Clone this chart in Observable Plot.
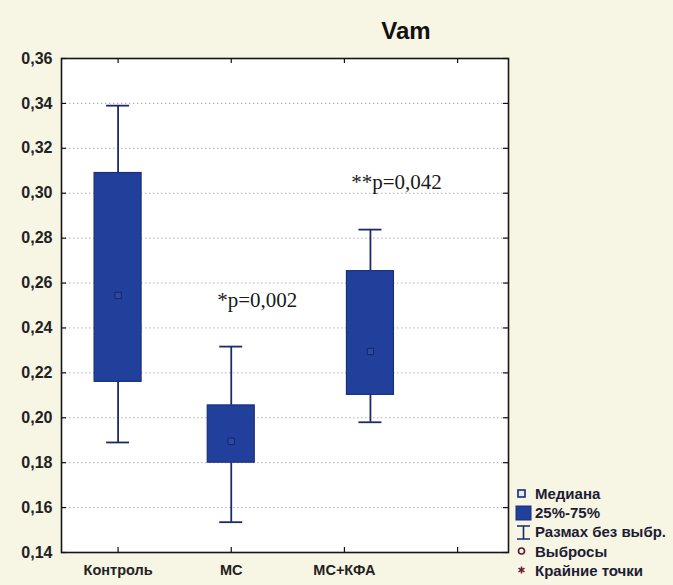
<!DOCTYPE html>
<html>
<head>
<meta charset="utf-8">
<script src="https://cdn.jsdelivr.net/npm/d3@7"></script>
<script src="https://cdn.jsdelivr.net/npm/@observablehq/plot@0.6"></script>
<style>
  html, body { margin: 0; padding: 0; background: #f7f5e3; }
  #wrap { position: relative; width: 673px; height: 585px; overflow: hidden; }
  #title { position: absolute; left: 0; width: 812px; top: 17px; text-align: center;
           font: bold 24px "Liberation Sans", Arial, sans-serif; color: #111; }
  #legend { position: absolute; left: 513px; top: 484px; font: bold 15px "Liberation Sans", Arial, sans-serif; color: #1c1c34; }
  #legend .row { display: flex; align-items: center; height: 19.2px; white-space: nowrap; }
  #legend svg { width: 22px; height: 18px; flex: none; }
</style>
</head>
<body>
<div id="wrap">
  <div id="chart"></div>
  <div id="title">Vam</div>
  <div id="legend"></div>
</div>
<script>
// ---- data ----
const groups = ["Контроль", "МС", "МС+КФА"];
const groupPos = [1, 2, 3.23];           // horizontal position of each box (category units)
const whiskerLow  = [0.189, 0.1535, 0.198];
const q1          = [0.216, 0.180, 0.2102];
const median      = [0.2545, 0.1895, 0.2295];
const q3          = [0.309, 0.2055, 0.2653];
const whiskerHigh = [0.339, 0.2317, 0.2838];
const yTicks = [0.14, 0.16, 0.18, 0.20, 0.22, 0.24, 0.26, 0.28, 0.30, 0.32, 0.34, 0.36];
const xTicks = [1, 2, 3, 4];
const annotations = [
  { group: 1, label: "*p=0,002", y: 0.2525 },
  { group: 2, label: "**p=0,042", y: 0.305 }
];
const legendItems = ["Медиана", "25%-75%", "Размах без выбр.", "Выбросы", "Крайние точки"];

const data = groups.map((g, i) => ({
  group: g, pos: groupPos[i], lo: whiskerLow[i], q1: q1[i], med: median[i], q3: q3[i], hi: whiskerHigh[i]
}));
const ann = annotations.map(a => ({ ...a, pos: groupPos[a.group] }));

// ---- layout ----
const W = 673, H = 585;
const mL = 61, mR = 165, mT = 58, mB = 33;
const innerW = W - mL - mR, innerH = H - mT - mB;
const xDomain = [0.5, 4.45];
const pxPerUnit = innerW / (xDomain[1] - xDomain[0]);
const boxHalf = 23.5 / pxPerUnit;
const capHalf = 11.5 / pxPerUnit;

const boxFill = "#21409b";
const boxStroke = "#1a2f7c";
const lineCol = "#1b2a6c";

const chart = Plot.plot({
  width: W, height: H,
  marginLeft: mL, marginRight: mR, marginTop: mT, marginBottom: mB,
  style: { background: "transparent", overflow: "visible" },
  x: { domain: xDomain, axis: null },
  y: { domain: [0.14, 0.36], axis: null },
  marks: [
    Plot.frame({ fill: "#ffffff", stroke: "none" }),
    Plot.ruleY(yTicks.slice(1, -1), { stroke: "#9a9aa8", strokeWidth: 0.8, strokeDasharray: "1.5,2.5" }),
    // whiskers
    Plot.ruleX(data, { x: "pos", y1: "lo", y2: "q1", stroke: lineCol, strokeWidth: 1.8 }),
    Plot.ruleX(data, { x: "pos", y1: "q3", y2: "hi", stroke: lineCol, strokeWidth: 1.8 }),
    Plot.ruleY(data, { y: "hi", x1: d => d.pos - capHalf, x2: d => d.pos + capHalf, stroke: lineCol, strokeWidth: 1.8 }),
    Plot.ruleY(data, { y: "lo", x1: d => d.pos - capHalf, x2: d => d.pos + capHalf, stroke: lineCol, strokeWidth: 1.8 }),
    // boxes
    Plot.rect(data, { x1: d => d.pos - boxHalf, x2: d => d.pos + boxHalf, y1: "q1", y2: "q3",
                      fill: boxFill, stroke: boxStroke, strokeWidth: 1.2 }),
    // median markers
    Plot.dot(data, { x: "pos", y: "med", symbol: "square", r: 3.6, fill: "#2a4aa6", stroke: "#16256a", strokeWidth: 1 }),
    // annotations
    Plot.text(ann, { x: "pos", y: "y", text: "label", dx: 26, textAnchor: "middle",
                     fontFamily: "Liberation Serif, Times New Roman, serif", fontSize: 21, fill: "#1a1a1a" }),
    // inward ticks
    Plot.tickY(yTicks, { y: d => d, insetRight: innerW - 5, stroke: "#111", strokeWidth: 1.2 }),
    Plot.tickY(yTicks, { y: d => d, insetLeft: innerW - 5, stroke: "#111", strokeWidth: 1.2 }),
    Plot.tickX(xTicks, { x: d => d, insetTop: innerH - 5, stroke: "#111", strokeWidth: 1.2 }),
    Plot.tickX(xTicks, { x: d => d, insetBottom: innerH - 5, stroke: "#111", strokeWidth: 1.2 }),
    Plot.frame({ stroke: "#151515", strokeWidth: 1.6 }),
    // axes labels
    Plot.axisY({ ticks: yTicks, tickSize: 0, tickPadding: 9, tickFormat: d => d.toFixed(2).replace(".", ","),
                 fontSize: 16, fontWeight: "bold", fontFamily: "Liberation Sans, Arial, sans-serif", fill: "#222", label: null }),
    Plot.axisX({ ticks: [1, 2, 3], tickSize: 0, tickPadding: 12, tickFormat: d => groups[d - 1],
                 fontSize: 14.5, fontWeight: "bold", fontFamily: "Liberation Sans, Arial, sans-serif", fill: "#222", label: null })
  ]
});
document.getElementById("chart").appendChild(chart);

// ---- legend ----
const symbols = [
  `<rect x="5" y="5" width="7" height="7" fill="#e8e8f4" stroke="#1a2a70" stroke-width="1.6"/>`,
  `<rect x="3" y="2" width="15" height="14" fill="${boxFill}" stroke="${boxStroke}" stroke-width="1"/>`,
  `<path d="M4 3 H17 M10.5 3 V16 M4 16 H17" stroke="${lineCol}" stroke-width="1.6" fill="none"/>`,
  `<circle cx="8.5" cy="9" r="3" fill="none" stroke="#5a1a30" stroke-width="1.6"/>`,
  `<path d="M8.5 5.5 V12.5 M5.5 7.2 L11.5 10.8 M5.5 10.8 L11.5 7.2" stroke="#6a1a30" stroke-width="1.5" fill="none"/>`
];
const legend = document.getElementById("legend");
legendItems.forEach((t, i) => {
  const row = document.createElement("div");
  row.className = "row";
  row.innerHTML = `<svg viewBox="0 0 22 18">${symbols[i]}</svg><span>${t}</span>`;
  legend.appendChild(row);
});
</script>
</body>
</html>
